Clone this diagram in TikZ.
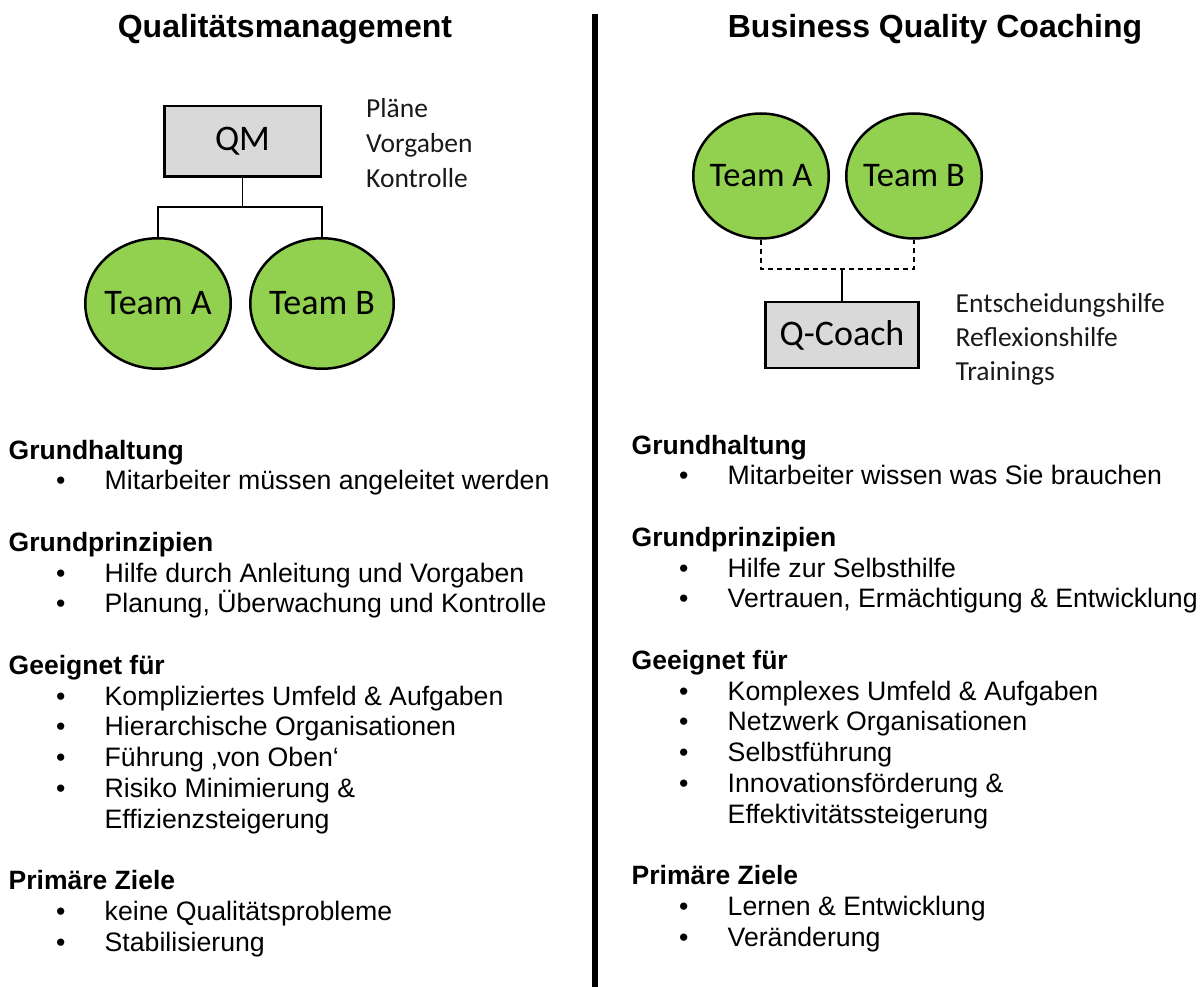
\documentclass[tikz,border=0pt]{standalone}
\usepackage{fontspec}
\setmainfont{Liberation Sans}
\newfontfamily\calibrifont{Carlito}
\usetikzlibrary{shapes.geometric}
\definecolor{teamgreen}{HTML}{92D050}
\definecolor{boxgray}{HTML}{D9D9D9}
\tikzset{
  titletext/.style={font=\fontsize{32}{36}\selectfont\bfseries, anchor=base, inner sep=0pt},
  sechead/.style={font=\fontsize{26.5}{30}\selectfont\bfseries, anchor=base west, inner sep=0pt},
  itemtext/.style={font=\fontsize{26.67}{30}\selectfont, anchor=base west, inner sep=0pt},
  team/.style={ellipse, draw=black, line width=2.5pt, fill=teamgreen, inner sep=0pt},
  rolebox/.style={rectangle, draw=black, line width=2.5pt, fill=boxgray, inner sep=0pt,
    font=\calibrifont\fontsize{36}{40}\selectfont},
  notetext/.style={font=\calibrifont\fontsize{27.5}{33}\selectfont, anchor=base west, inner sep=0pt, text=black!90},
  conn/.style={line width=1.3pt, draw=black},
  dconn/.style={conn, dash pattern=on 5pt off 4pt},
  divider/.style={line width=6pt, draw=black},
}
% name, bullet x, text x, y, text
\newcommand{\lstrow}[5]{%
  \node[itemtext] (#1b) at (#2,#4) {•};
  \node[itemtext] (#1) at (#3,#4) {#5};}
\begin{document}
\begin{tikzpicture}[x=1pt,y=-1pt]
\useasboundingbox (0,0) rectangle (1201,987);

% divider
\coordinate (dtop) at (595,14);
\coordinate (dbot) at (595,987);
\draw[divider] (dtop) -- (dbot);

% titles
\node[titletext] (tl) at (285,38) {Qualitätsmanagement};
\node[titletext] (tr) at (935,38) {Business Quality Coaching};

% ---------- left diagram ----------
\node[rolebox, minimum width=156.5pt, minimum height=70.5pt] (qm) at (242.5,141.5) {QM};
\node[team, minimum width=145.5pt, minimum height=130.5pt,
      font=\calibrifont\fontsize{36}{40}\selectfont] (lA) at (158,303.5) {\makebox[0pt]{Team A}};
\node[team, minimum width=143.5pt, minimum height=130.5pt,
      font=\calibrifont\fontsize{36}{40}\selectfont] (lB) at (322,303.5) {\makebox[0pt]{Team B}};
\coordinate (lj) at (242.5,207);
\draw[conn] (qm.south) -- (lj);
\draw[conn] (lA.north) |- (lj) -| (lB.north);
\node[notetext] (n1) at (366,117.5) {Pläne};
\node[notetext] (n2) at (366,152.5) {Vorgaben};
\node[notetext] (n3) at (366,187.5) {Kontrolle};

% ---------- right diagram ----------
\node[team, minimum width=135.5pt, minimum height=125pt,
      font=\calibrifont\fontsize{34.5}{40}\selectfont] (rA) at (761,176) {\makebox[0pt]{Team A}};
\node[team, minimum width=135.5pt, minimum height=125pt,
      font=\calibrifont\fontsize{34.5}{40}\selectfont] (rB) at (914,176) {\makebox[0pt]{Team B}};
\node[rolebox, minimum width=153pt, minimum height=66pt] (qc) at (842,335) {Q-Coach};
\coordinate (rj) at (842,269);
\draw[dconn] (rA.south) |- (rj) -| (rB.south);
\draw[conn] (rj) -- (qc.north);
\node[notetext] (m1) at (955.5,312.5) {Entscheidungshilfe};
\node[notetext] (m2) at (955.5,346.5) {Reflexionshilfe};
\node[notetext] (m3) at (955.5,380.5) {Trainings};

% ---------- left list ----------
\node[sechead] (lh1) at (8.5,{459+30.75*0}) {Grundhaltung};
\lstrow{la1}{56}{104.5}{{459+30.75*1}}{Mitarbeiter müssen angeleitet werden}
\node[sechead] (lh2) at (8.5,{459+30.75*3}) {Grundprinzipien};
\lstrow{la2}{56}{104.5}{{459+30.75*4}}{Hilfe durch Anleitung und Vorgaben}
\lstrow{la3}{56}{104.5}{{459+30.75*5}}{Planung, Überwachung und Kontrolle}
\node[sechead] (lh3) at (8.5,{459+30.75*7}) {Geeignet für};
\lstrow{la4}{56}{104.5}{{459+30.75*8}}{Kompliziertes Umfeld \& Aufgaben}
\lstrow{la5}{56}{104.5}{{459+30.75*9}}{Hierarchische Organisationen}
\lstrow{la6}{56}{104.5}{{459+30.75*10}}{Führung ‚von Oben‘}
\lstrow{la7}{56}{104.5}{{459+30.75*11}}{Risiko Minimierung \&}
\node[itemtext] (la8) at (104.5,{459+30.75*12}) {Effizienzsteigerung};
\node[sechead] (lh4) at (8.5,{459+30.75*14}) {Primäre Ziele};
\lstrow{la9}{56}{104.5}{{459+30.75*15}}{keine Qualitätsprobleme}
\lstrow{la10}{56}{104.5}{{459+30.75*16}}{Stabilisierung}

% ---------- right list ----------
\node[sechead] (rh1) at (631.5,{454+30.75*0}) {Grundhaltung};
\lstrow{ra1}{679}{727.5}{{454+30.75*1}}{Mitarbeiter wissen was Sie brauchen}
\node[sechead] (rh2) at (631.5,{454+30.75*3}) {Grundprinzipien};
\lstrow{ra2}{679}{727.5}{{454+30.75*4}}{Hilfe zur Selbsthilfe}
\lstrow{ra3}{679}{727.5}{{454+30.75*5}}{Vertrauen, Ermächtigung \& Entwicklung}
\node[sechead] (rh3) at (631.5,{454+30.75*7}) {Geeignet für};
\lstrow{ra4}{679}{727.5}{{454+30.75*8}}{Komplexes Umfeld \& Aufgaben}
\lstrow{ra5}{679}{727.5}{{454+30.75*9}}{Netzwerk Organisationen}
\lstrow{ra6}{679}{727.5}{{454+30.75*10}}{Selbstführung}
\lstrow{ra7}{679}{727.5}{{454+30.75*11}}{Innovationsförderung \&}
\node[itemtext] (ra8) at (727.5,{454+30.75*12}) {Effektivitätssteigerung};
\node[sechead] (rh4) at (631.5,{454+30.75*14}) {Primäre Ziele};
\lstrow{ra9}{679}{727.5}{{454+30.75*15}}{Lernen \& Entwicklung}
\lstrow{ra10}{679}{727.5}{{454+30.75*16}}{Veränderung}
\end{tikzpicture}
\end{document}
